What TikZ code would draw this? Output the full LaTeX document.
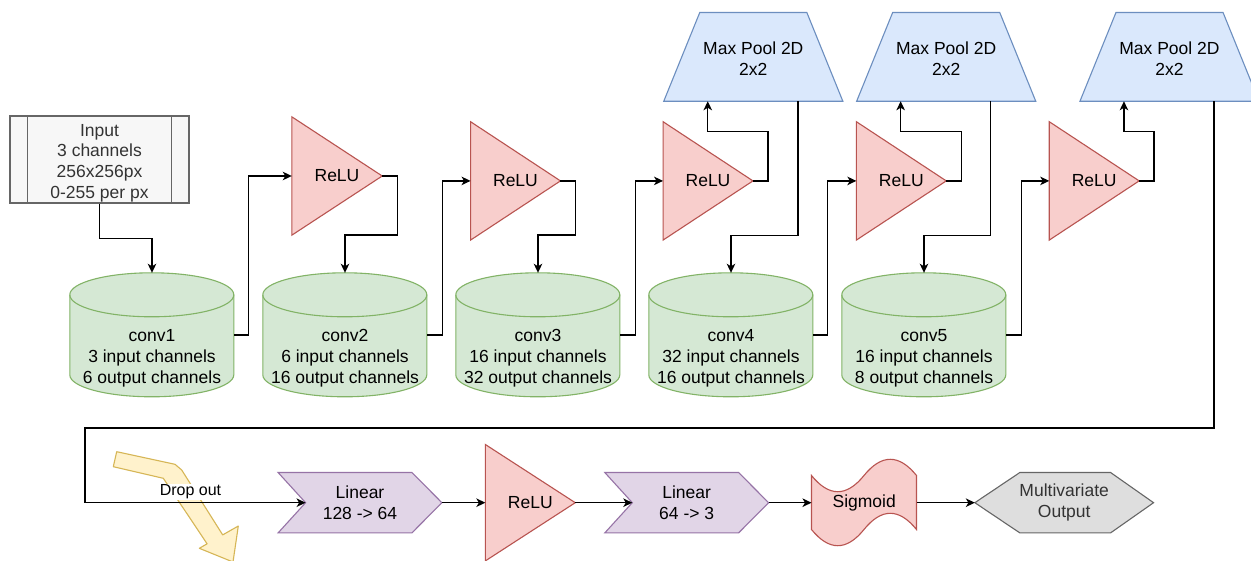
\documentclass[tikz,border=0pt]{standalone}
\usepackage{fontspec}
\setmainfont{Liberation Sans}
\usetikzlibrary{arrows.meta}
\pgfdeclarelayer{bg}
\pgfsetlayers{bg,main}

\definecolor{redfill}{HTML}{F8CECC}
\definecolor{redline}{HTML}{B85450}
\definecolor{greenfill}{HTML}{D5E8D4}
\definecolor{greenline}{HTML}{82B366}
\definecolor{bluefill}{HTML}{DAE8FC}
\definecolor{blueline}{HTML}{6C8EBF}
\definecolor{purplefill}{HTML}{E1D5E7}
\definecolor{purpleline}{HTML}{9673A6}
\definecolor{yellowfill}{HTML}{FFF2CC}
\definecolor{yellowline}{HTML}{D6B656}
\definecolor{grayfill}{HTML}{F7F7F7}
\definecolor{grayline}{HTML}{666666}
\definecolor{hexfill}{HTML}{DEDEDE}
\definecolor{darktext}{HTML}{333333}

\tikzset{
  box/.style={rectangle, draw=none, inner sep=0pt, align=center,
    font=\fontsize{17.5}{20.8}\selectfont},
  inputbox/.style={box, fill=grayfill, draw=grayline, line width=1.1pt,
    minimum width=179pt, minimum height=87pt},
  relubox/.style={box, minimum width=89.5pt, minimum height=118pt},
  convbox/.style={box, minimum width=164pt, minimum height=124pt},
  poolbox/.style={box, minimum width=178.7pt, minimum height=88.3pt},
  linbox/.style={box, minimum width=163.4pt, minimum height=60pt},
  relushape/.style={fill=redfill, draw=redline, line width=1.1pt, line join=miter},
  convshape/.style={fill=greenfill, draw=greenline, line width=1.1pt},
  poolshape/.style={fill=bluefill, draw=blueline, line width=1.1pt},
  linshape/.style={fill=purplefill, draw=purpleline, line width=1.1pt},
  hexshape/.style={fill=hexfill, draw=grayline, line width=1.1pt},
  dropshape/.style={fill=yellowfill, draw=yellowline, line width=1.1pt, line join=round},
  wire/.style={draw=black, line width=1.4pt},
  conn/.style={wire, -{Stealth[length=9pt,width=8.5pt,inset=2.5pt]}},
  droplabel/.style={fill=white, inner sep=1pt, font=\fontsize{16}{19}\selectfont}
}

% outline helpers, drawn from the anchors of a named box
\newcommand\mkTri[1]{\path[relushape] (#1.north west) -- (#1.east) -- (#1.south west) -- cycle;}
\newcommand\mkTrap[1]{\path[poolshape] (#1.south west) -- ([xshift=36pt]#1.north west)
  -- ([xshift=-36pt]#1.north east) -- (#1.south east) -- cycle;}
\newcommand\mkStep[1]{\path[linshape] (#1.north west) -- ([xshift=-30pt]#1.north east)
  -- (#1.east) -- ([xshift=-30pt]#1.south east) -- (#1.south west)
  -- ([xshift=27.5pt]#1.west) -- cycle;}
\newcommand\mkCyl[1]{%
  \path[convshape, shift={(#1.north west)}] (0,22) -- (0,102)
    arc[start angle=180, end angle=360, x radius=82pt, y radius=22pt]
    -- (164,22)
    arc[start angle=0, end angle=180, x radius=82pt, y radius=22pt] -- cycle;
  \draw[convshape, fill=none, shift={(#1.north west)}] (0,22)
    arc[start angle=180, end angle=360, x radius=82pt, y radius=22pt];}

\begin{document}
\begin{tikzpicture}[x=1pt,y=-1pt]
\path[use as bounding box] (0,0) rectangle (1251,561);

% ---------- upper row ----------
\node[inputbox] (input) at (99.5,159.5) {};
\node[box, text=darktext] (inputt) at ([yshift=-3.5pt]input.center) {Input\\3 channels\\256x256px\\0-255 per px};
\draw[grayline, line width=1.1pt] ([xshift=18pt]input.north west) -- ([xshift=18pt]input.south west);
\draw[grayline, line width=1.1pt] ([xshift=-18pt]input.north east) -- ([xshift=-18pt]input.south east);

\node[convbox] (conv1) at (152,335) {};
\node[convbox] (conv2) at (345,335) {};
\node[convbox] (conv3) at (538,335) {};
\node[convbox] (conv4) at (731,335) {};
\node[convbox] (conv5) at (924,335) {};
\node[box] (conv1t) at ([yshift=-23.5pt]conv1.center) {conv1\\3 input channels\\6 output channels};
\node[box] (conv2t) at ([yshift=-23.5pt]conv2.center) {conv2\\6 input channels\\16 output channels};
\node[box] (conv3t) at ([yshift=-23.5pt]conv3.center) {conv3\\16 input channels\\32 output channels};
\node[box] (conv4t) at ([yshift=-23.5pt]conv4.center) {conv4\\32 input channels\\16 output channels};
\node[box] (conv5t) at ([yshift=-23.5pt]conv5.center) {conv5\\16 input channels\\8 output channels};

\node[relubox, minimum width=90pt] (relu1) at (337,176) {ReLU};
\node[relubox] (relu2) at (515.5,180.9) {ReLU};
\node[relubox] (relu3) at (708,180.9) {ReLU};
\node[relubox] (relu4) at (901.3,180.9) {ReLU};
\node[relubox] (relu5) at (1094.2,180.9) {ReLU};

\node[poolbox] (mp1) at (753.3,56.9) {};
\node[poolbox] (mp2) at (946.2,56.9) {};
\node[poolbox] (mp3) at (1169.5,56.9) {};
\node[box] (mp1t) at ([yshift=-1.5pt]mp1.center) {Max Pool 2D\\2x2};
\node[box] (mp2t) at ([yshift=-1.5pt]mp2.center) {Max Pool 2D\\2x2};
\node[box] (mp3t) at ([yshift=-1.5pt]mp3.center) {Max Pool 2D\\2x2};

% ---------- lower row ----------
\node[linbox] (lin1) at (360,502.7) {Linear\\128 -> 64};
\node[relubox, minimum height=116pt] (relu6) at (530.3,502.7) {ReLU};
\node[linbox] (lin2) at (686.7,502.7) {Linear\\64 -> 3};
\node[box, minimum width=105pt, minimum height=90pt] (sig) at (864.2,502.7) {Sigmoid};
\node[box, minimum width=178.3pt, minimum height=60pt, text=darktext] (out) at (1064.2,502.7) {Multivariate\\Output};
\coordinate (turnA) at (85,428);

% ---------- shape outlines ----------
\begin{pgfonlayer}{bg}
  \fill[white] (0,0) rectangle (1251,561);
  \mkCyl{conv1}\mkCyl{conv2}\mkCyl{conv3}\mkCyl{conv4}\mkCyl{conv5}
  \mkTri{relu1}\mkTri{relu2}\mkTri{relu3}\mkTri{relu4}\mkTri{relu5}\mkTri{relu6}
  \mkTrap{mp1}\mkTrap{mp2}\mkTrap{mp3}
  \mkStep{lin1}\mkStep{lin2}
  % sigmoid: waving tape outline
  \path[relushape, shift={(sig.north west)}]
    (0,18) .. controls (17.5,39.6) and (35,39.6) .. (52.5,18)
    .. controls (70,-3.6) and (87.5,-3.6) .. (105,18)
    -- (105,72) .. controls (87.5,50.4) and (70,50.4) .. (52.5,72)
    .. controls (35,93.6) and (17.5,93.6) .. (0,72) -- cycle;
  % output hexagon
  \path[hexshape] (out.west) -- ([xshift=45pt]out.north west) -- ([xshift=-43pt]out.north east)
    -- (out.east) -- ([xshift=-43pt]out.south east) -- ([xshift=45pt]out.south west) -- cycle;
  % bent drop-out arrow
  \path[dropshape] (116.7,451.7) -- (175,464.3) -- (181.7,470) -- (222.7,534.9)
    -- (238.3,526) -- (233,562) -- (199.3,548.3) -- (207.1,543.8)
    -- (163.3,478.3) -- (113.3,466.7) -- cycle;
\end{pgfonlayer}

% ---------- connectors ----------
\draw[conn] (input.south) -- ++(0,35) -| (conv1.north);
\draw[conn] (conv1.east) -- ++(14,0) |- (relu1.west);
\draw[conn] (relu1.east) -- ++(15,0) -- ++(0,59) -| (conv2.north);
\draw[conn] (conv2.east) -- ++(15,0) |- (relu2.west);
\draw[conn] (relu2.east) -- ++(15,0) -- ++(0,54.1) -| (conv3.north);
\draw[conn] (conv3.east) -- ++(15,0) |- (relu3.west);
\draw[conn] (relu3.east) -- ++(15,0) -- ++(0,-49.2) -| ([xshift=44pt]mp1.south west);
\draw[conn] ([xshift=-45pt]mp1.south east) -- ++(0,134) -| (conv4.north);
\draw[conn] (conv4.east) -- ++(14.5,0) |- (relu4.west);
\draw[conn] (relu4.east) -- ++(15,0) -- ++(0,-49.2) -| ([xshift=44pt]mp2.south west);
\draw[conn] ([xshift=-45pt]mp2.south east) -- ++(0,134) -| (conv5.north);
\draw[conn] (conv5.east) -- ++(15.4,0) |- (relu5.west);
\draw[conn] (relu5.east) -- ++(15,0) -- ++(0,-49.2) -| ([xshift=44pt]mp3.south west);
\draw[conn] ([xshift=-45pt]mp3.south east) |- (turnA) |- ([xshift=27.5pt]lin1.west)
  node[droplabel, pos=0.739, yshift=11pt] (droptxt) {Drop out};
\draw[conn] (lin1.east) -- (relu6.west);
\draw[conn] (relu6.east) -- ([xshift=27.5pt]lin2.west);
\draw[conn] (lin2.east) -- (sig.west);
\draw[conn] (sig.east) -- (out.west);
\end{tikzpicture}
\end{document}
